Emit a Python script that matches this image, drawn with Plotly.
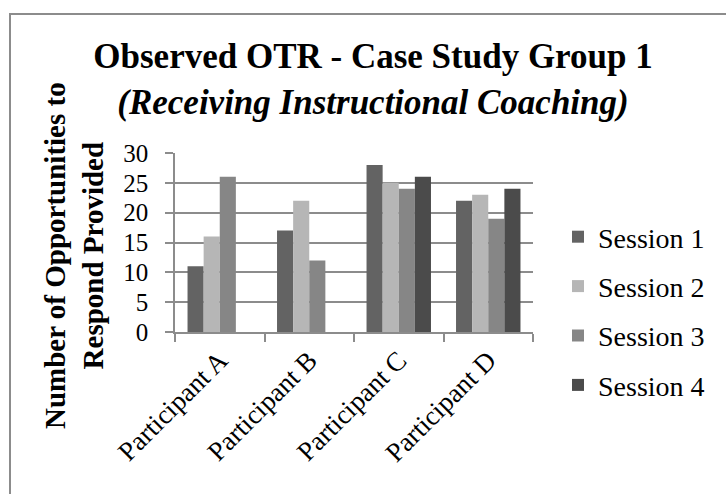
import plotly.graph_objects as go

categories = ["Participant A", "Participant B", "Participant C", "Participant D"]
session_names = ["Session 1", "Session 2", "Session 3", "Session 4"]
session1 = [11, 17, 28, 22]
session2 = [16, 22, 25, 23]
session3 = [26, 12, 24, 19]
session4 = [None, None, 26, 24]
y_ticks = [0, 5, 10, 15, 20, 25, 30]

colors = ["#636363", "#b6b6b6", "#868686", "#4b4b4b"]
series = [session1, session2, session3, session4]

W, H = 726, 494
L, R, T, B = 175, 533, 153, 332  # plot area pixels


def px(xp):
    return (xp - L) / (R - L)


def py(yp):
    return (B - yp) / (B - T)


FONT = "Liberation Serif, Times New Roman, serif"

fig = go.Figure()
for name, vals, col in zip(session_names, series, colors):
    fig.add_trace(go.Bar(
        x=categories, y=vals, name=name, legendgroup=name,
        marker=dict(color=col, line=dict(width=0)),
    ))

fig.update_layout(
    width=W, height=H,
    margin=dict(l=L, r=W - R, t=T, b=H - B, pad=0),
    paper_bgcolor="white", plot_bgcolor="white",
    barmode="group", bargap=0.28, bargroupgap=0,
    font=dict(family=FONT, color="black"),
    title=dict(
        text="<b>Observed OTR - Case Study Group 1</b><br><b><i>(Receiving Instructional Coaching)</i></b>",
        font=dict(family=FONT, size=35, color="black"),
        x=373 / W, xanchor="center", xref="container",
        y=1 - 68 / H, yanchor="middle", yref="container",
    ),
    legend=dict(
        font=dict(family=FONT, size=28, color="black"),
        x=px(558), xanchor="left", y=py(311), yanchor="middle",
        traceorder="grouped", tracegroupgap=10, maxheight=400,
        bgcolor="rgba(0,0,0,0)", itemclick=False,
    ),
    showlegend=True,
)

fig.update_xaxes(
    type="category", showline=True, linecolor="#8c8c8c", linewidth=1.5,
    ticks="outside", tickson="boundaries", ticklen=8, tickcolor="#8c8c8c", tickwidth=1.5,
    tickangle=-45, tickfont=dict(family=FONT, size=27, color="black"),
    showgrid=False,
)
fig.update_yaxes(
    range=[0, 30], tickvals=y_ticks, ticktext=[str(v) for v in y_ticks],
    showline=True, linecolor="#8c8c8c", linewidth=1.5,
    ticks="outside", ticklen=8, tickcolor="#8c8c8c", tickwidth=1.5,
    ticklabelstandoff=12,
    showgrid=True, gridcolor="#8c8c8c", gridwidth=1.5,
    zeroline=False,
    tickfont=dict(family=FONT, size=25, color="black"),
)

# Y-axis title as an annotation for precise placement
fig.add_annotation(
    text="<b>Number of Opportunities to<br>Respond Provided</b>",
    xref="paper", yref="paper", x=px(74), y=py(256),
    xanchor="center", yanchor="middle", textangle=-90, showarrow=False,
    font=dict(family=FONT, size=29, color="black"),
)

# Chart outer border (extends beyond right and bottom edges)
fig.add_shape(
    type="rect", xref="paper", yref="paper",
    x0=px(10), x1=px(740), y0=py(510), y1=py(14),
    line=dict(color="#8c8c8c", width=2), fillcolor="rgba(0,0,0,0)", layer="below",
)

fig.write_html("out.html", config={"displayModeBar": False},
               post_script="document.body.style.margin='0';")
